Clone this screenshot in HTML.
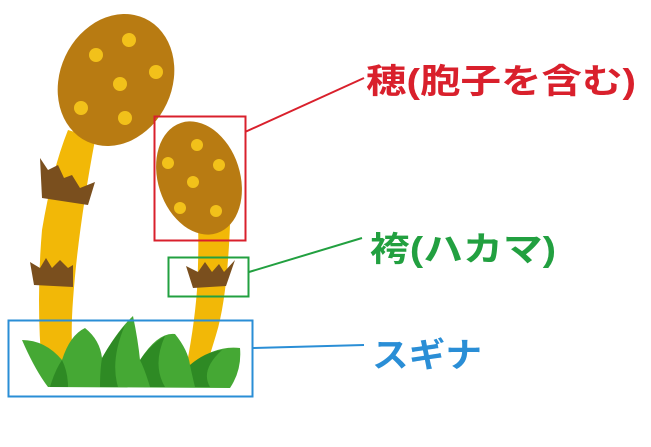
<!DOCTYPE html>
<html><head><meta charset="utf-8"><style>
html,body{margin:0;padding:0;background:#fff;width:651px;height:447px;overflow:hidden}
svg{display:block}
text{font-family:"Liberation Sans","Noto Sans CJK JP",sans-serif;font-weight:bold}
</style></head><body>
<svg width="651" height="447" viewBox="0 0 651 447">
<!-- left stalk -->
<path d="M68 130 Q85 135 95 140 Q78 230 73 300 Q70 340 74 370 L42 370 Q36 300 42 230 Q52 170 68 130Z" fill="#f2b807"/>
<!-- right stalk -->
<path d="M198 225 L230 225 Q227 300 216 335 Q207 365 202 378 L184 378 Q194 330 197 290 Q199 250 198 225Z" fill="#f2b807"/>
<!-- big head -->
<ellipse cx="116" cy="80" rx="56" ry="68" transform="rotate(25 116 80)" fill="#b87b12"/>
<g fill="#f2c11a">
<circle cx="129" cy="40" r="7"/><circle cx="96" cy="55" r="7"/><circle cx="156" cy="72" r="7"/>
<circle cx="120" cy="84" r="7"/><circle cx="81" cy="108" r="7"/><circle cx="125" cy="118" r="7"/></g>
<!-- small head -->
<ellipse cx="199" cy="178" rx="41" ry="58" transform="rotate(-18 199 178)" fill="#b87b12"/>
<g fill="#f2c11a">
<circle cx="197" cy="145" r="6"/><circle cx="168" cy="163" r="6"/><circle cx="219" cy="165" r="6"/>
<circle cx="193" cy="182" r="6"/><circle cx="180" cy="208" r="6"/><circle cx="216" cy="211" r="6"/></g>
<!-- sheaths -->
<g fill="#7a4f1e">
<path d="M40 158 L48 170 L58 165 L64 178 L72 175 L80 188 L95 182 L88 205 L42 198Z"/>
<path d="M30 262 L40 268 L46 258 L52 268 L60 260 L68 268 L73 265 L73 287 L34 285Z"/>
<path d="M186 266 L198 272 L205 262 L212 272 L219 264 L224 272 L235 260 L226 286 L193 288Z"/>
</g>
<!-- grass -->
<path d="M22 340 Q45 340 62 360 Q70 335 85 328 Q100 340 102 358 Q118 330 133 316 Q138 340 140 360 Q158 332 175 334 Q188 350 190 365 Q215 345 240 348 Q242 370 230 388 L48 387 Q35 370 22 340Z" fill="#45a834"/>
<g fill="#2e8a24">
<path d="M50 387 Q55 370 62 360 Q68 372 68 387Z"/>
<path d="M100 387 Q100 370 102 358 Q112 340 125 325 Q110 360 118 387Z"/>
<path d="M150 387 Q145 370 140 360 Q150 345 165 336 Q152 365 165 387Z"/>
<path d="M195 387 Q192 375 190 365 Q205 352 222 350 Q200 370 210 387Z"/>
</g>
<!-- boxes -->
<g fill="none" stroke-width="2">
<rect x="154.5" y="116.5" width="91" height="124" stroke="#d9202c"/>
<line x1="245" y1="132" x2="364" y2="78" stroke="#d9202c"/>
<rect x="168.5" y="257.5" width="80" height="39" stroke="#22a040"/>
<line x1="249" y1="272" x2="362" y2="238" stroke="#22a040"/>
<rect x="8.5" y="320.5" width="244" height="76" stroke="#2a8ed6"/>
<line x1="253" y1="348" x2="364" y2="345" stroke="#2a8ed6"/>
</g>
<text x="366" y="93" font-size="34" fill="#d9202c" textLength="270" lengthAdjust="spacingAndGlyphs">穂(胞子を含む)</text>
<text x="370" y="261" font-size="34" fill="#22a040" textLength="186" lengthAdjust="spacingAndGlyphs">袴(ハカマ)</text>
<text x="372" y="367" font-size="34" fill="#2a8ed6" textLength="110" lengthAdjust="spacingAndGlyphs">スギナ</text>
</svg>
</body></html>
